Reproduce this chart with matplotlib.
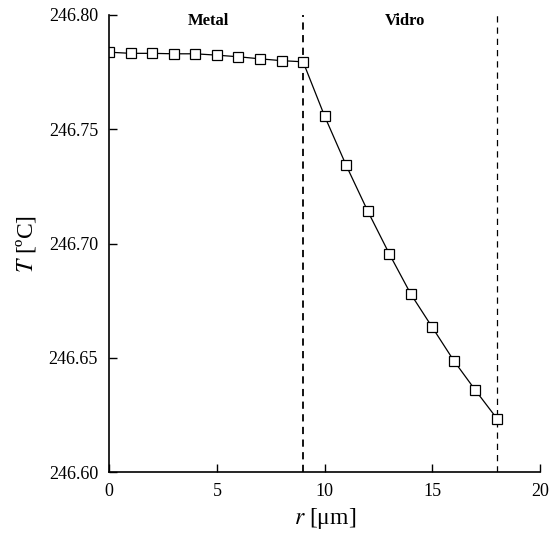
import matplotlib
matplotlib.use("Agg")
import matplotlib.pyplot as plt

plt.rcParams['font.family'] = ['Liberation Serif', 'DejaVu Serif']
plt.rcParams['mathtext.fontset'] = 'stix'

# raio (um) e temperatura (C)
r = [0, 1, 2, 3, 4, 5, 6, 7, 8, 9, 10, 11, 12, 13, 14, 15, 16, 17, 18]
T = [246.7837, 246.7832, 246.7832, 246.7830, 246.7830, 246.7824, 246.7817,
     246.7808, 246.7800, 246.7795, 246.7557, 246.7342, 246.7142, 246.6955,
     246.6779, 246.6633, 246.6487, 246.6358, 246.6234]
interfaces = [9, 18]
regioes = ['Metal', 'Vidro']
regioes_x = [4.6, 13.75]
xticks = [0, 5, 10, 15, 20]
yticks = [246.60, 246.65, 246.70, 246.75, 246.80]

fig = plt.figure(figsize=(5.54, 5.33), dpi=100)
ax = fig.add_axes([0.197, 0.114, 0.778, 0.858])

ax.axvline(interfaces[0], color='black', lw=1.3, ls=(0, (4, 3)))
ax.axvline(interfaces[1], color='black', lw=0.9, ls=(0, (5, 4)))

ax.plot(r, T, color='black', lw=0.9, marker='s', ms=6.5,
        markerfacecolor='white', markeredgecolor='black', markeredgewidth=0.9)

for nome, xp in zip(regioes, regioes_x):
    ax.text(xp, 246.7975, nome, ha='center', va='center',
            fontsize=12, fontweight='bold')

ax.set_xlim(0, 20)
ax.set_ylim(246.60, 246.80)
ax.set_xticks(xticks)
ax.set_yticks(yticks)
ax.set_yticklabels(['%.2f' % v for v in yticks])
ax.tick_params(direction='in', length=6, width=1, labelsize=13, pad=8)
ax.spines['top'].set_visible(False)
ax.spines['right'].set_visible(False)
ax.spines['left'].set_linewidth(1.2)
ax.spines['bottom'].set_linewidth(1.2)

ax.set_xlabel('$r$ [μm]', fontsize=17, labelpad=4)
ax.set_ylabel('$T$ [ºC]', fontsize=17, labelpad=8)

fig.savefig('out.png', dpi=100)
